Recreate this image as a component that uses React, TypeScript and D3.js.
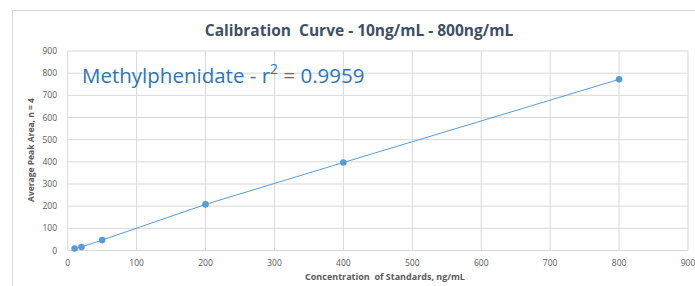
import * as d3 from "d3";
import { useEffect, useRef } from "react";

// concentration of standards, ng/mL
const concentrations = [10, 20, 50, 200, 400, 800];
// average peak area, n = 4
const peakAreas = [9, 16, 47, 208, 397, 772];
const xTicks = [0, 100, 200, 300, 400, 500, 600, 700, 800, 900];
const yTicks = [0, 100, 200, 300, 400, 500, 600, 700, 800, 900];

const App = () => {
    const ref = useRef<SVGSVGElement>(null);

    useEffect(() => {
        const svg = d3.select(ref.current);
        svg.selectAll("*").remove();

        const width = 695, height = 286;
        const left = 67.7, right = 688, top = 51, bottom = 250.5;
        const font = "'Open Sans', 'Noto Sans', sans-serif";

        const x = d3.scaleLinear().domain([0, 900]).range([left, right]);
        const y = d3.scaleLinear().domain([0, 900]).range([bottom, top]);

        svg.attr("width", width).attr("height", height);

        // chart frame
        svg.append("rect")
            .attr("x", 12.5).attr("y", 10.5)
            .attr("width", width).attr("height", height)
            .attr("fill", "white").attr("stroke", "#D9D9D9");

        // gridlines
        svg.append("g").selectAll("line").data(xTicks).join("line")
            .attr("x1", d => x(d)).attr("x2", d => x(d))
            .attr("y1", top).attr("y2", bottom)
            .attr("stroke", "#D9D9D9").attr("stroke-width", 1);
        svg.append("g").selectAll("line").data(yTicks).join("line")
            .attr("x1", left).attr("x2", right)
            .attr("y1", d => y(d)).attr("y2", d => y(d))
            .attr("stroke", "#D9D9D9").attr("stroke-width", 1);

        // tick labels
        svg.append("g").selectAll("text").data(xTicks).join("text")
            .attr("x", d => x(d)).attr("y", 266)
            .attr("text-anchor", "middle")
            .attr("font-family", font).attr("font-size", 8.5)
            .attr("fill", "#595959")
            .text(d => d);
        svg.append("g").selectAll("text").data(yTicks).join("text")
            .attr("x", 57).attr("y", d => y(d) + 3)
            .attr("text-anchor", "end")
            .attr("font-family", font).attr("font-size", 8.5)
            .attr("fill", "#595959")
            .text(d => d);

        // title
        svg.append("text")
            .attr("x", 359).attr("y", 36)
            .attr("text-anchor", "middle")
            .attr("font-family", font).attr("font-size", 15.5).attr("font-weight", "bold")
            .attr("fill", "#3D4F66")
            .style("white-space", "pre")
            .text("Calibration  Curve - 10ng/mL - 800ng/mL");

        // axis titles
        svg.append("text")
            .attr("x", 385).attr("y", 280)
            .attr("text-anchor", "middle")
            .attr("font-family", font).attr("font-size", 9).attr("font-weight", "bold")
            .attr("fill", "#595959")
            .style("white-space", "pre")
            .text("Concentration  of Standards, ng/mL");
        svg.append("text")
            .attr("transform", "translate(34,150) rotate(-90)")
            .attr("text-anchor", "middle")
            .attr("font-family", font).attr("font-size", 8.5).attr("font-weight", "bold")
            .attr("fill", "#595959")
            .text("Average Peak Area, n = 4");

        // annotation
        const note = svg.append("text")
            .attr("x", 82).attr("y", 83)
            .attr("font-family", font).attr("font-size", 20.5)
            .attr("fill", "#2E75B6");
        note.append("tspan").text("Methylphenidate - r");
        note.append("tspan").attr("font-size", 14).attr("dy", -9).text("2");
        note.append("tspan").attr("dy", 9).text(" = 0.9959");

        const data = concentrations.map((c, i) => [c, peakAreas[i]] as [number, number]);

        const line = d3.line<[number, number]>()
            .x(d => x(d[0]))
            .y(d => y(d[1]));

        svg.append("path")
            .datum(data)
            .attr("d", line)
            .attr("fill", "none")
            .attr("stroke", "#5B9BD5")
            .attr("stroke-width", 1);

        svg.append("g").selectAll("circle").data(data).join("circle")
            .attr("cx", d => x(d[0]))
            .attr("cy", d => y(d[1]))
            .attr("r", 3.3)
            .attr("fill", "#5B9BD5");
    }, []);

    return (
        <div style={{ position: "fixed", left: 0, top: 0, width: 695, height: 286, overflow: "hidden" }}>
            <svg ref={ref} style={{ display: "block" }}></svg>
        </div>
    );
};

export default App;
